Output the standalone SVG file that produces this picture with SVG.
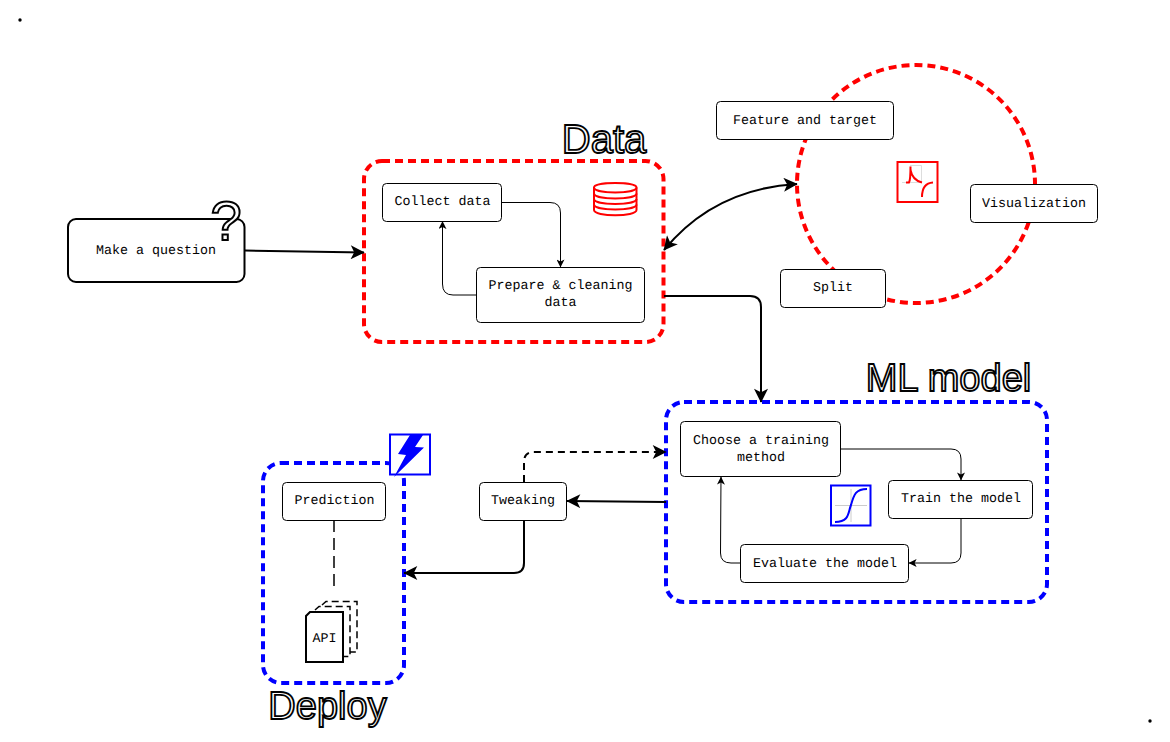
<svg xmlns="http://www.w3.org/2000/svg" width="1170" height="742" viewBox="0 0 1170 742">
<style>
.n{fill:#fff;stroke:#000;stroke-width:1}
.t{font-family:"Liberation Mono",monospace;font-size:13.33px;fill:#000;text-anchor:middle;text-rendering:geometricPrecision;opacity:.99}
.h{font-family:"Liberation Sans",Arial,sans-serif;fill:#fff;stroke:#000;stroke-width:1.800;text-anchor:middle;opacity:.99}
.red{fill:none;stroke:#f00;stroke-width:4;stroke-dasharray:8 5}
.blue{fill:none;stroke:#00f;stroke-width:4;stroke-dasharray:8 5}
.c1{fill:none;stroke:#000;stroke-width:1;marker-end:url(#a1)}
.c2{fill:none;stroke:#000;stroke-width:2;marker-end:url(#a2)}
</style>
<defs>
<marker id="a1" viewBox="0 0 10 10" refX="9.5" refY="5" markerWidth="8" markerHeight="8" markerUnits="userSpaceOnUse" orient="auto-start-reverse"><path d="M0 0L10 5L0 10L2.5 5Z" fill="#000"/></marker>
<marker id="a2" viewBox="0 0 10 10" refX="9.500" refY="5" markerWidth="15" markerHeight="14" markerUnits="userSpaceOnUse" orient="auto-start-reverse"><path d="M0 0L10 5L0 10L2.5 5Z" fill="#000"/></marker>
</defs>
<circle cx="20" cy="20" r="1.700" fill="#000"/>
<circle cx="1150" cy="721" r="1.700" fill="#000"/>
<g id="data-area">
<rect class="red" x="364" y="161" width="299.500" height="181" rx="18"/>
<text class="h" x="604" y="153" font-size="40">Data</text>
<g fill="none" stroke="#f00" stroke-width="2"><path d="M594 187.500C594 181.500 636.500 181.500 636.500 187.500V210C636.500 217 594 217 594 210Z"/><path d="M594 187.500C594 194 636.500 194 636.500 187.500M594 193.500C594 200 636.500 200 636.500 193.500M594 199C594 205.500 636.500 205.500 636.500 199M594 204.500C594 211 636.500 211 636.500 204.500"/></g>
</g>
<g id="analysis-area">
<circle class="red" cx="916" cy="184" r="119"/>
<rect x="897.500" y="162" width="40" height="40" fill="#fff" stroke="#f00" stroke-width="2"/>
<path d="M902 182.500H921.500V165.500H910" fill="none" stroke="#ddd" stroke-width="1"/>
<path d="M906 182.500H909C910.500 180 910.500 172 910.500 166.500M910.500 170C912 178 916 181 922 182.500M922 197C922 188 925 183 933 182.500" fill="none" stroke="#f00" stroke-width="2"/>
</g>
<g id="ml-area">
<rect class="blue" x="666" y="402" width="381" height="200" rx="18"/>
<text class="h" x="948.500" y="391" font-size="38">ML model</text>
<rect x="831" y="485.500" width="39.500" height="40" fill="#fff" stroke="#00f" stroke-width="2"/>
<path d="M835 505.500H867M851 489V522" stroke="#ccc" stroke-width="1" fill="none"/>
<path d="M835 522C850 522 848 512 851 505C854 494 856 489 867 489" fill="none" stroke="#00f" stroke-width="2"/>
</g>
<g id="deploy-area">
<rect class="blue" x="263" y="463" width="141" height="220" rx="18"/>
<text class="h" x="327.500" y="719" font-size="38">Deploy</text>
<rect x="390" y="434.500" width="40" height="40" fill="#fff" stroke="#00f" stroke-width="2"/>
<path d="M410 435H423L415 447L424 447.500L394 477L406 455L398 454Z" fill="#00f"/>
</g>
<g id="connectors">
<path class="c2" d="M245 250.500L364 252.500"/>
<path class="c1" d="M502 202.500H550Q560.500 202.500 560.500 213V267"/>
<path class="c1" d="M477 295H453Q442.500 295 442.500 284V221.500"/>
<path class="c2" d="M664 296H750Q761 296 761 307V402"/>
<path class="c2" style="marker-start:url(#a2)" d="M664 250C700 206 745 187 797 184"/>
<path class="c2" d="M666 502L567 501"/>
<path class="c2" stroke-dasharray="7 5" d="M524 482V462Q524 452 534 452H666"/>
<path class="c2" d="M524 520V563Q524 573 514 573H404"/>
<path class="c1" d="M841 449H951Q961 449 961 459V480"/>
<path class="c1" d="M961 518V553Q961 563 951 563H909"/>
<path class="c1" d="M741 563H731Q720.500 563 720.500 553L721 477"/>
<path d="M334 520V590" fill="none" stroke="#000" stroke-width="1.500" stroke-dasharray="12 6"/>
</g>
<g id="make-question">
<rect x="68" y="219" width="176.500" height="63" rx="8" fill="#fff" stroke="#000" stroke-width="2"/>
<text class="t" x="156" y="254">Make a question</text>
<text x="226" y="240" font-family="Liberation Sans,sans-serif" font-size="56" text-anchor="middle" fill="#fff" stroke="#000" stroke-width="2" opacity=".99">?</text>
</g>
<g id="collect-data"><rect class="n" x="382.500" y="183.500" width="119" height="38" rx="4"/><text class="t" x="442.500" y="205">Collect data</text></g>
<g id="prepare-data"><rect class="n" x="476.500" y="267.500" width="168" height="55" rx="4"/><text class="t" x="560.500" y="289">Prepare &amp; cleaning</text><text class="t" x="560.500" y="306">data</text></g>
<g id="feature-target"><rect class="n" x="716.500" y="101.500" width="177" height="38" rx="4"/><text class="t" x="805" y="124">Feature and target</text></g>
<g id="visualization"><rect class="n" x="970.500" y="184.500" width="127" height="38" rx="4"/><text class="t" x="1034" y="207">Visualization</text></g>
<g id="split"><rect class="n" x="780.500" y="269.500" width="105" height="38" rx="4"/><text class="t" x="833" y="291">Split</text></g>
<g id="choose-method"><rect class="n" x="680.500" y="421.500" width="160" height="55" rx="4"/><text class="t" x="761" y="444">Choose a training</text><text class="t" x="761" y="461">method</text></g>
<g id="train-model"><rect class="n" x="888.500" y="480.500" width="144" height="38" rx="4"/><text class="t" x="961" y="502">Train the model</text></g>
<g id="evaluate-model"><rect class="n" x="740.500" y="544.500" width="168" height="38" rx="4"/><text class="t" x="825" y="567">Evaluate the model</text></g>
<g id="tweaking"><rect class="n" x="479.500" y="482.500" width="87" height="38" rx="4"/><text class="t" x="523" y="504">Tweaking</text></g>
<g id="prediction"><rect class="n" x="282.500" y="482.500" width="103" height="38" rx="4"/><text class="t" x="334.500" y="504">Prediction</text></g>
<g id="api">
<path d="M322 605L326 601.500H357V652H350" fill="none" stroke="#000" stroke-width="1.500" stroke-dasharray="7 4"/>
<path d="M315 610L319 606.500H350V656.500H344" fill="none" stroke="#000" stroke-width="1.500" stroke-dasharray="7 4"/>
<path d="M310 612H343V662H306V616Z" fill="#fff" stroke="#000" stroke-width="2"/>
<text class="t" x="324.500" y="642">API</text>
</g>
</svg>
